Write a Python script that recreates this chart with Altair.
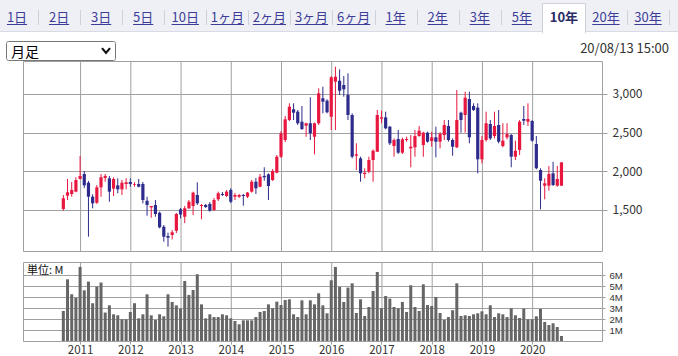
import altair as alt
import pandas as pd

FONT = "Noto Sans CJK JP"
RED = "#e8173f"
BLUE = "#2d2b8c"
GRID = "#a0a0a0"

# ---------------- data (monthly candles, Sep 2010 .. Aug 2020) ----------------
start_month = "2010-09"
opens = [1513, 1685, 1707, 1737, 1901, 1965, 1853, 1672, 1594, 1793,
         1914, 1909, 1776, 1819, 1767, 1836, 1862, 1827, 1836, 1836,
         1620, 1534, 1565, 1465, 1284, 1164, 1177, 1232, 1509, 1413,
         1522, 1552, 1694, 1552, 1565, 1578, 1500, 1638, 1707, 1681,
         1758, 1672, 1672, 1694, 1672, 1737, 1866, 1801, 1940, 1961,
         1888, 1982, 2189, 2405, 2663, 2802, 2771, 2641, 2590, 2621,
         2447, 2621, 2944, 2913, 2706, 3158, 3171, 3116, 2986, 2728,
         2202, 2168, 1965, 1995, 2146, 2254, 2680, 2698, 2577, 2327,
         2418, 2241, 2405, 2297, 2310, 2456, 2340, 2499, 2392, 2439,
         2383, 2469, 2586, 2405, 2310, 2758, 2728, 2935, 2844, 2823,
         2155, 2405, 2612, 2456, 2599, 2327, 2439, 2469, 2189, 2275,
         2676, 2641, 2650, 2353, 2017, 1814, 1814, 1974, 1814, 1814]
highs = [1694, 1901, 1862, 1923, 2198, 2004, 1875, 1703, 1823, 1965,
         1965, 1940, 1923, 1910, 1888, 1910, 1910, 1858, 1901, 1862,
         1672, 1552, 1629, 1478, 1306, 1207, 1241, 1461, 1526, 1552,
         1629, 1737, 1858, 1578, 1578, 1603, 1655, 1737, 1733, 1758,
         1780, 1720, 1707, 1707, 1733, 1888, 1914, 1965, 2052, 1974,
         2030, 2211, 2521, 2715, 2879, 2879, 2793, 2844, 2629, 2957,
         2629, 3073, 3094, 2931, 3232, 3352, 3318, 3232, 3267, 2750,
         2362, 2189, 2039, 2189, 2284, 2793, 2784, 2771, 2586, 2426,
         2534, 2435, 2447, 2469, 2534, 2586, 2512, 2512, 2512, 2577,
         2508, 2663, 2663, 2426, 3051, 2771, 3029, 3029, 2879, 2879,
         2456, 2771, 2663, 2771, 2793, 2621, 2621, 2482, 2396, 2663,
         2844, 2879, 2663, 2456, 2039, 1910, 2069, 2124, 2069, 2116]
lows = [1491, 1629, 1672, 1729, 1895, 1785, 1155, 1522, 1578, 1672,
        1866, 1607, 1681, 1716, 1694, 1767, 1801, 1801, 1793, 1586,
        1426, 1400, 1413, 1263, 1090, 1026, 1121, 1203, 1392, 1330,
        1513, 1435, 1565, 1380, 1526, 1478, 1487, 1616, 1681, 1668,
        1590, 1629, 1655, 1556, 1655, 1724, 1707, 1793, 1879, 1629,
        1875, 1974, 2172, 2379, 2650, 2663, 2599, 2534, 2447, 2405,
        2220, 2599, 2750, 2750, 2534, 2534, 2986, 2964, 2663, 2168,
        2017, 1866, 1910, 1974, 1866, 2250, 2621, 2543, 2340, 2189,
        2224, 2224, 2383, 2052, 2189, 2447, 2189, 2370, 2318, 2181,
        2297, 2405, 2383, 2202, 2301, 2499, 2499, 2362, 2780, 1974,
        2103, 2383, 2405, 2426, 2362, 2310, 2413, 2052, 2146, 2211,
        2599, 2586, 2383, 2026, 1509, 1638, 1750, 1810, 1801, 1814]
closes = [1651, 1729, 1758, 1888, 1940, 1819, 1672, 1586, 1793, 1923,
          1940, 1737, 1901, 1767, 1853, 1858, 1836, 1836, 1801, 1629,
          1565, 1552, 1448, 1276, 1155, 1142, 1212, 1448, 1442, 1522,
          1607, 1724, 1586, 1565, 1539, 1491, 1629, 1716, 1694, 1737,
          1607, 1694, 1694, 1681, 1724, 1866, 1780, 1930, 1923, 1810,
          2004, 2189, 2491, 2672, 2835, 2758, 2621, 2547, 2621, 2491,
          2621, 3008, 2900, 2763, 3215, 3223, 3042, 3060, 2728, 2189,
          2220, 1974, 1982, 2146, 2266, 2728, 2698, 2556, 2362, 2405,
          2241, 2413, 2418, 2318, 2456, 2525, 2499, 2383, 2439, 2383,
          2482, 2599, 2405, 2318, 2663, 2663, 2952, 2440, 2793, 2155,
          2405, 2621, 2426, 2586, 2383, 2396, 2482, 2189, 2266, 2641,
          2654, 2676, 2396, 2039, 1879, 1845, 1965, 1823, 1901, 2116]
volumes_m = [2.74, 5.64, 4.27, 3.96, 6.77, 4.63, 5.43, 3.45, 4.97, 5.34,
             2.60, 3.26, 2.44, 2.35, 1.98, 1.98, 2.65, 3.45, 2.07, 2.44,
             4.27, 2.35, 1.92, 2.44, 2.26, 4.27, 3.57, 3.26, 2.96, 5.48,
             4.21, 4.66, 6.10, 3.35, 2.07, 2.44, 2.19, 2.19, 2.44, 2.35,
             2.07, 1.83, 1.53, 1.89, 1.89, 1.89, 2.19, 2.65, 2.74, 3.35,
             2.99, 3.60, 3.29, 3.75, 3.81, 2.44, 2.19, 3.72, 2.44, 3.72,
             3.35, 4.36, 3.26, 2.53, 5.55, 6.77, 4.94, 3.57, 4.88, 5.27,
             2.56, 3.81, 2.29, 3.11, 4.57, 6.31, 2.99, 4.11, 3.87, 3.11,
             2.99, 3.57, 2.65, 5.09, 3.11, 2.74, 5.18, 3.29, 3.20, 4.02,
             2.56, 1.92, 2.19, 2.81, 5.27, 2.29, 2.35, 2.29, 2.44, 2.53,
             2.71, 2.44, 3.26, 2.19, 2.53, 2.44, 2.19, 2.99, 2.35, 2.10,
             2.96, 1.98, 1.98, 2.26, 2.93, 1.74, 1.46, 1.62, 1.28, 0.46]

years = list(range(2011, 2021))
price_ticks = [1500, 2000, 2500, 3000]
vol_ticks = [1e6, 2e6, 3e6, 4e6, 5e6, 6e6]
tabs = ["1日", "2日", "3日", "5日", "10日", "1ヶ月", "2ヶ月", "3ヶ月", "6ヶ月",
        "1年", "2年", "3年", "5年", "10年", "20年", "30年"]
selected_tab = "10年"
timestamp = "20/08/13 15:00"
period_label = "月足"
unit_label = "単位: M"

months = pd.period_range(start_month, periods=len(opens), freq="M")
df = pd.DataFrame({
    "t": [p.year + (p.month - 1) / 12 for p in months],
    "open": opens, "high": highs, "low": lows, "close": closes,
    "volume": [v * 1e6 for v in volumes_m],
})
df["dir"] = ["up" if c >= o else "down" for o, c in zip(opens, closes)]
yr_df = pd.DataFrame({"t": years})
one = pd.DataFrame({"k": [0]})

# ---------------- layout (plot-area pixels) ----------------
L, T = 23, 61          # page offset of plot area
W, H = 579, 280        # whole plot area (price + gap + volume)
PH = 190               # price panel height
VT = 201               # volume panel top

x_scale = alt.Scale(domain=[2009.963, 2021.291], nice=False, zero=False)
x_axis = alt.Axis(values=years, format="d", grid=False, domain=False, tickSize=3,
                  tickColor=GRID, labelPadding=0, labelFontSize=11.5, labelFont=FONT,
                  labelColor="#333", labelOverlap=False)
X = alt.X("t:Q", scale=x_scale, axis=x_axis, title=None)

p_scale = alt.Scale(domain=[970, 3426], range=[PH, 0], nice=False, zero=False)
p_axis = alt.Axis(orient="right", values=price_ticks, format=",d", grid=True,
                  gridColor=GRID, domain=False, tickSize=5, tickColor=GRID,
                  labelPadding=5, labelFontSize=12, labelFont=FONT, labelColor="#333",
                  labelOverlap=False)
v_scale = alt.Scale(domain=[0, 7.22e6], range=[H, VT], nice=False, zero=True)
v_axis = alt.Axis(orient="right", values=vol_ticks, labelExpr="(datum.value/1000000) + 'M'",
                  grid=True, gridColor=GRID, domain=False, tickSize=3, tickColor=GRID,
                  labelPadding=4, labelFontSize=9.6, labelFont="Liberation Sans",
                  labelColor="#333", labelOverlap=False)
col = alt.Color("dir:N", scale=alt.Scale(domain=["up", "down"], range=[RED, BLUE]), legend=None)


def px(x):
    return alt.value(x - L)


def py(y):
    return alt.value(y - T)


def rect(x1, y1, x2, y2, **kw):
    return alt.Chart(one).mark_rect(**kw).encode(x=px(x1), x2=px(x2), y=py(y1), y2=py(y2))


def rule(x1, y1, x2, y2, **kw):
    return alt.Chart(one).mark_rule(**kw).encode(x=px(x1), x2=px(x2), y=py(y1), y2=py(y2))


def text(x, y, s, **kw):
    return alt.Chart(one).mark_text(text=s, font=FONT, **kw).encode(x=px(x), y=py(y))


layers = []

# ---- header: tab bar ----
layers.append(rect(0, 0, 678, 31.5, fill="#eff0f5"))
layers.append(rule(0, 31.5, 678, 31.5, color="#d9dae3", strokeWidth=1))
sel_k = tabs.index(selected_tab)
sx1 = round(38 + 42.07 * (sel_k - 1)) - 0.5
sx2 = round(38 + 42.07 * sel_k) + 0.5
layers.append(rect(sx1, 3.5, sx2, 33, fill="white", stroke="#cfd0da", strokeWidth=1))
layers.append(rect(sx1 + 0.5, 30.5, sx2 - 0.5, 36, fill="white"))
for k in range(len(tabs)):
    if k in (sel_k - 1, sel_k):
        continue
    sxp = round(38 + 42.07 * k) + 0.5
    layers.append(rule(sxp, 10, sxp, 25, color="#cfd0da", strokeWidth=1))


def tw(s):
    return sum(7.2 if ch.isdigit() else 13 for ch in s)


for k, lab in enumerate(tabs):
    cx = 17 + 42.07 * k
    if lab == selected_tab:
        layers.append(text(cx, 17.5, lab, align="center", baseline="middle", fontSize=13,
                           fontWeight="bold", color="#2a2a66"))
    else:
        layers.append(text(cx, 17.5, lab, align="center", baseline="middle", fontSize=13,
                           color="#3d3d99"))
        w = tw(lab)
        layers.append(rule(cx - w / 2, 24.5, cx + w / 2, 24.5, color="#3d3d99", strokeWidth=1))

# ---- header: select box + timestamp ----
layers.append(rect(6.5, 41.5, 115.5, 60.5, fill="white", stroke="#767676", strokeWidth=1, cornerRadius=2))
layers.append(text(11, 52.5, period_label, align="left", baseline="middle", fontSize=14, color="#000"))
layers.append(alt.Chart(one).mark_point(shape="M-1,-0.6L0,0.6L1,-0.6", filled=False, size=64,
                                        color="#111", strokeWidth=2.2, opacity=1)
              .encode(x=px(106), y=py(50.5)))
layers.append(text(669, 49, timestamp, align="right", baseline="middle", fontSize=13, color="#333"))

# ---- panel frames and vertical year grid ----
layers.append(alt.Chart(one).mark_rect(fillOpacity=0, stroke=GRID, strokeWidth=1).encode(
    x=alt.value(0.5), x2=alt.value(W + 0.5), y=alt.value(0.5), y2=alt.value(PH + 0.5)))
layers.append(alt.Chart(one).mark_rect(fillOpacity=0, stroke=GRID, strokeWidth=1).encode(
    x=alt.value(0.5), x2=alt.value(W + 0.5), y=alt.value(VT + 0.5), y2=alt.value(H + 0.5)))
layers.append(alt.Chart(yr_df).mark_rule(color=GRID, strokeWidth=1, xOffset=0.5).encode(
    x=X, y=alt.value(0), y2=alt.value(PH)))
layers.append(alt.Chart(yr_df).mark_rule(color=GRID, strokeWidth=1, xOffset=0.5).encode(
    x=X, y=alt.value(VT), y2=alt.value(H)))

# ---- price candles ----
wick = alt.Chart(df).mark_rule(strokeWidth=1).encode(
    x=X,
    y=alt.Y("low:Q", scale=p_scale, axis=p_axis, title=None),
    y2="high:Q",
    color=col,
)
body = alt.Chart(df).mark_bar(size=3.2).encode(
    x=X,
    y=alt.Y("open:Q", scale=p_scale, axis=p_axis, title=None),
    y2="close:Q",
    color=col,
)
price = alt.layer(wick, body).resolve_scale(y="shared")
layers.append(price)

# ---- volume ----
vol = alt.Chart(df).mark_bar(size=3, color="#666666").encode(
    x=X,
    y=alt.Y("volume:Q", scale=v_scale, axis=v_axis, title=None),
)
layers.append(vol)
layers.append(text(27, 270.5, unit_label, align="left", baseline="middle", fontSize=11, color="#111"))

chart = (
    alt.layer(*layers)
    .resolve_scale(y="independent")
    .properties(width=W, height=H, background="white",
                padding={"left": L, "top": T, "right": 678 - L - W, "bottom": 356 - T - H},
                autosize=alt.AutoSizeParams(type="none"))
    .configure_view(stroke="transparent")
)

chart.save("out.html", embed_options={"renderer": "svg", "actions": False})
